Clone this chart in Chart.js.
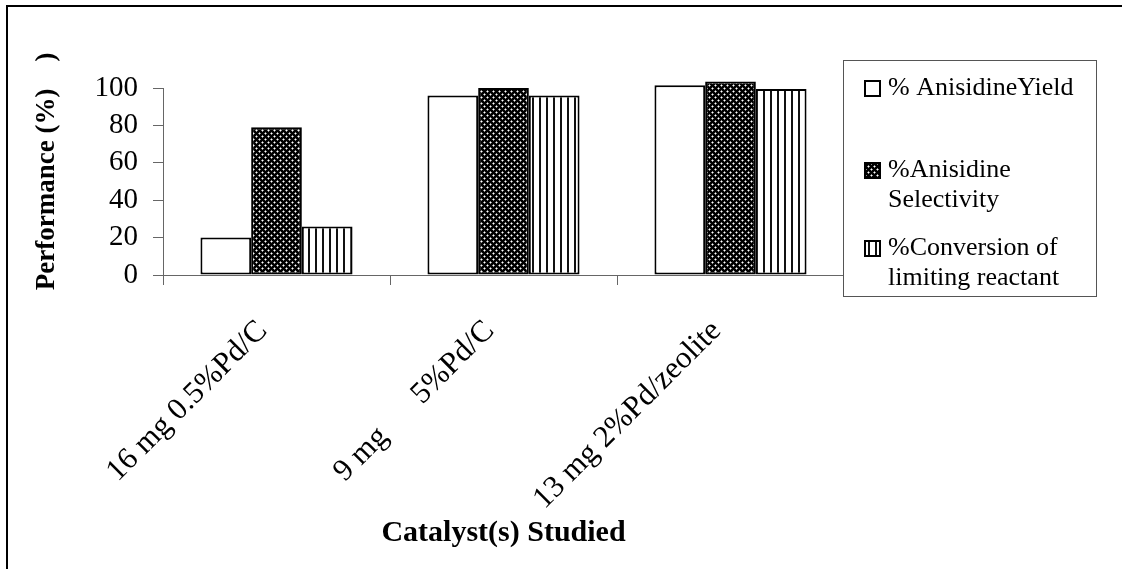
<!DOCTYPE html>
<html>
<head>
<meta charset="utf-8">
<script src="https://cdn.jsdelivr.net/npm/chart.js@4.4.1/dist/chart.umd.min.js"></script>
<style>
  html, body { margin: 0; padding: 0; background: #fff; }
  #wrap { position: relative; width: 1125px; height: 569px; overflow: hidden; }
  #frame { position: absolute; left: 6px; top: 5px; width: 1114px; height: 620px; border-left: 2px solid #000; border-top: 2px solid #000; }
  #chart { position: absolute; left: 0; top: 0; }
</style>
</head>
<body>
<div id="wrap">
  <div id="frame"></div>
  <canvas id="chart" width="1125" height="569"></canvas>
</div>
<script>
// catalysts and measured performance (%)
const catalysts = ['16 mg 0.5%Pd/C', '9 mg      5%Pd/C', '13 mg 2%Pd/zeolite'];
const yieldPct = [20, 96, 101.5];
const selectivityPct = [79, 100, 103.5];
const conversionPct = [26, 96, 99.5];
const seriesNames = ['% AnisidineYield', '%Anisidine\nSelectivity', '%Conversion of\nlimiting reactant'];

const serif = '"Liberation Serif", "Times New Roman", serif';

// black-and-white fill patterns for the bars
function crossPattern() {
    const c = document.createElement('canvas');
    c.width = 6; c.height = 6;
    const g = c.getContext('2d');
    g.fillStyle = '#000';
    g.fillRect(0, 0, 6, 6);
    g.fillStyle = '#8a8a8a';
    [[0,1],[2,1],[1,0],[1,2],[3,4],[5,4],[4,3],[4,5]].forEach(p => g.fillRect(p[0], p[1], 1, 1));
    g.fillStyle = '#fff';
    g.fillRect(1, 1, 1, 1);
    g.fillRect(4, 4, 1, 1);
    return g.createPattern(c, 'repeat');
}

function stripePattern() {
    const c = document.createElement('canvas');
    c.width = 7; c.height = 4;
    const g = c.getContext('2d');
    g.fillStyle = '#fff';
    g.fillRect(0, 0, 7, 4);
    g.fillStyle = '#111';
    g.fillRect(0, 0, 2, 4);
    return g.createPattern(c, 'repeat');
}

// legend box to the right of the plot, multi-line labels
const boxLegend = {
    id: 'boxLegend',
    afterDraw(chart) {
        const ctx = chart.ctx;
        const left = Math.round(chart.chartArea.right) - 1;
        const top = 60, right = 1096, bottom = 296;
        const rowY = [88, 170, 248];
        ctx.save();
        ctx.fillStyle = '#fff';
        ctx.fillRect(left, top, right - left, bottom - top);
        ctx.strokeStyle = '#555';
        ctx.lineWidth = 1;
        ctx.strokeRect(left + 0.5, top + 0.5, right - left, bottom - top);
        ctx.font = '26px ' + serif;
        ctx.textBaseline = 'middle';
        chart.data.datasets.forEach((ds, i) => {
            const y = rowY[i];
            ctx.fillStyle = ds.backgroundColor;
            ctx.fillRect(865, y - 7, 15, 15);
            ctx.strokeStyle = '#000';
            ctx.lineWidth = 2;
            ctx.strokeRect(865, y - 7, 15, 15);
            ctx.fillStyle = '#000';
            ds.label.split('\n').forEach((line, j) => {
                ctx.fillText(line, 888, y + j * 30);
            });
        });
        ctx.restore();
    }
};

const ctx = document.getElementById('chart');

new Chart(ctx, {
    type: 'bar',
    data: {
        labels: catalysts,
        datasets: [{
            label: seriesNames[0],
            data: yieldPct,
            backgroundColor: '#fff',
        }, {
            label: seriesNames[1],
            data: selectivityPct,
            backgroundColor: crossPattern(),
        }, {
            label: seriesNames[2],
            data: conversionPct,
            backgroundColor: stripePattern(),
        }]
    },
    plugins: [boxLegend],
    options: {
        responsive: false,
        animation: false,
        layout: {
            padding: { top: 88, right: 281, bottom: 0, left: 0 }
        },
        datasets: {
            bar: {
                borderColor: '#000',
                borderWidth: 2,
                borderSkipped: false,
                categoryPercentage: 0.67,
                barPercentage: 1,
                clip: false,
            }
        },
        plugins: {
            legend: { display: false },
            tooltip: { enabled: false },
        },
        scales: {
            x: {
                afterFit(scale) { scale.height = 294; },
                grid: {
                    drawOnChartArea: false,
                    tickLength: 10,
                    color: '#666',
                },
                border: { color: '#666', width: 1 },
                ticks: {
                    color: '#000',
                    font: { family: serif, size: 31 },
                    minRotation: 45,
                    maxRotation: 45,
                    padding: 28,
                    labelOffset: -14,
                },
                title: {
                    display: true,
                    text: 'Catalyst(s) Studied',
                    color: '#000',
                    font: { family: serif, size: 30, weight: 'bold', lineHeight: 1 },
                    padding: { top: 0, bottom: 21 },
                }
            },
            y: {
                min: 0,
                max: 100,
                afterFit(scale) { scale.width = 163; },
                grid: {
                    drawOnChartArea: false,
                    tickLength: 10,
                    color: '#666',
                },
                border: { color: '#666', width: 1 },
                ticks: {
                    stepSize: 20,
                    autoSkip: false,
                    color: '#000',
                    font: { family: serif, size: 29 },
                    padding: 15,
                },
                title: {
                    display: true,
                    text: '   Performance (%)    )',
                    color: '#000',
                    font: { family: serif, size: 27, weight: 'bold', lineHeight: 1 },
                    padding: { top: 34, bottom: 0 },
                }
            }
        }
    }
});
</script>
</body>
</html>
